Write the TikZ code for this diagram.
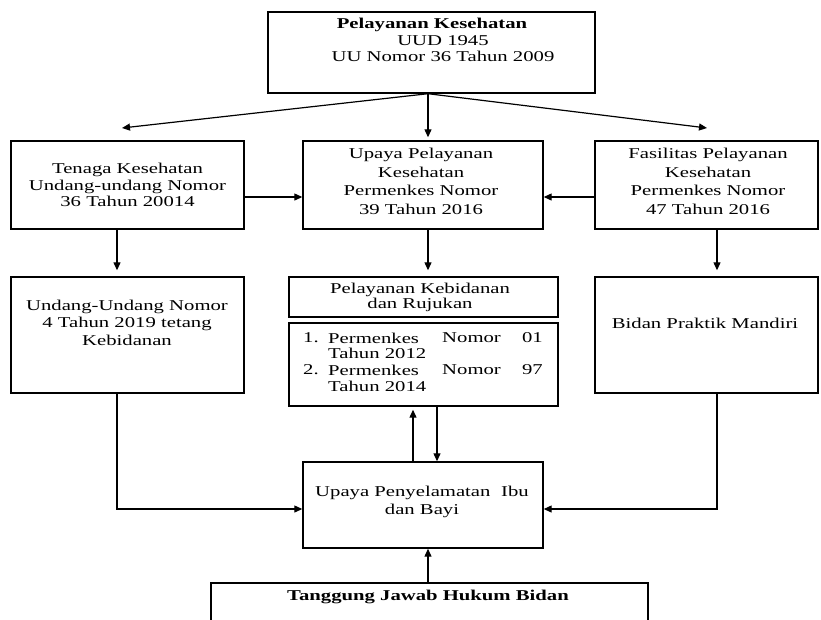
\documentclass[tikz,border=0pt]{standalone}
\usepackage{fontspec}
\setmainfont{Liberation Serif}
\usepackage{graphicx}
\usetikzlibrary{arrows.meta}
\newcommand\sx[1]{\scalebox{1.38}[1]{#1}}
\newcommand\ml[2]{\fontsize{15}{#1}\selectfont\sx{\begin{tabular}{@{}c@{}}#2\end{tabular}}}
\begin{document}
\begin{tikzpicture}[x=1pt,y=-1pt,
  box/.style={draw, line width=1.4pt, inner sep=0pt},
  txt/.style={inner sep=0pt},
  lt/.style={inner sep=0pt, font=\fontsize{15}{16}\selectfont},
  arr/.style={line width=1.2pt, -{Triangle[length=8pt,width=7pt]}}]
\useasboundingbox (0,0) rectangle (821,619);
\clip (0,0) rectangle (821,619);
% columns and rows
\coordinate (lx) at (117,0);
\coordinate (cx) at (428,0);
\coordinate (rx) at (717,0);
\coordinate (upx) at (413,0);
\coordinate (dnx) at (437,0);
\coordinate (hy) at (0,197);
\coordinate (ly) at (0,509);
\coordinate (tkin) at (122,128);
\coordinate (fasin) at (707,128);
% boxes
\node[box, minimum width=327pt, minimum height=81pt] (top) at (431.5,52.5) {};
\node[box, minimum width=233pt, minimum height=88pt] (tk) at (127.5,185) {};
\node[box, minimum width=240pt, minimum height=88pt] (upaya) at (423,185) {};
\node[box, minimum width=223pt, minimum height=88pt] (fas) at (706.5,185) {};
\node[box, minimum width=233pt, minimum height=116pt] (uu) at (127.5,335) {};
\node[box, minimum width=269pt, minimum height=40pt] (kebid) at (423.5,297) {};
\node[box, minimum width=269pt, minimum height=83pt] (list) at (423.5,364.5) {};
\node[box, minimum width=223pt, minimum height=116pt] (bpm) at (706.5,335) {};
\node[box, minimum width=240pt, minimum height=86pt] (ibu) at (423,505) {};
\node[box, minimum width=437pt, minimum height=60pt] (tjh) at (429.5,613) {};
% texts
\node[txt] (toptext) at (443,42) {\ml{16.5}{\textbf{Pelayanan Kesehatan}\hspace*{16pt}\\UUD 1945\\UU Nomor 36 Tahun 2009}};
\node[txt] (tktext) at (127.5,187) {\ml{16.5}{Tenaga Kesehatan\\Undang-undang Nomor\\36 Tahun 20014}};
\node[txt] (upayatext) at (421,183) {\ml{18.5}{Upaya Pelayanan\\Kesehatan\\Permenkes Nomor\\39 Tahun 2016}};
\node[txt] (fastext) at (708,183) {\ml{18.5}{Fasilitas Pelayanan\\Kesehatan\\Permenkes Nomor\\47 Tahun 2016}};
\node[txt] (uutext) at (127,324) {\ml{17.5}{Undang-Undang Nomor\\4 Tahun 2019 tetang\\Kebidanan}};
\node[txt] (kebidtext) at (420,298) {\ml{14.3}{Pelayanan Kebidanan\\dan Rujukan}};
\node[txt] (bpmtext) at (705,325) {\ml{16.5}{Bidan Praktik Mandiri}};
\node[txt] (ibutext) at (422,502) {\ml{18}{Upaya Penyelamatan\hspace{4pt} Ibu\\dan Bayi}};
\node[txt] (tjhtext) at (428,597) {\ml{16.5}{\textbf{Tanggung Jawab Hukum Bidan}}};
% list items
\node[lt, anchor=west] (n1) at (303,338) {\sx{1.}};
\node[lt, anchor=west] (p1) at (328,338) {\sx{Permenkes}};
\node[lt, anchor=west] (m1) at (442,338) {\sx{Nomor}};
\node[lt, anchor=east] (v1) at (543,338) {\sx{01}};
\node[lt, anchor=west] (t1) at (328,353) {\sx{Tahun 2012}};
\node[lt, anchor=west] (n2) at (303,370) {\sx{2.}};
\node[lt, anchor=west] (p2) at (328,370) {\sx{Permenkes}};
\node[lt, anchor=west] (m2) at (442,370) {\sx{Nomor}};
\node[lt, anchor=east] (v2) at (543,370) {\sx{97}};
\node[lt, anchor=west] (t2) at (328,386) {\sx{Tahun 2014}};
% connectors
\draw[arr] (top.south -| cx) -- (tkin);
\draw[arr] (top.south -| cx) -- (fasin);
\draw[arr, shorten >=3pt] (top.south -| cx) -- (upaya.north -| cx);
\draw[arr] (tk.east |- hy) -- (upaya.west |- hy);
\draw[arr] (fas.west |- hy) -- (upaya.east |- hy);
\draw[arr, shorten >=6pt] (tk.south -| lx) -- (uu.north -| lx);
\draw[arr, shorten >=6pt] (upaya.south -| cx) -- (kebid.north -| cx);
\draw[arr, shorten >=6pt] (fas.south -| rx) -- (bpm.north -| rx);
\draw[arr, shorten >=3pt] (ibu.north -| upx) -- (list.south -| upx);
\draw[arr] (list.south -| dnx) -- (ibu.north -| dnx);
\draw[arr] (uu.south -| lx) |- (ibu.west |- ly);
\draw[arr] (bpm.south -| rx) |- (ibu.east |- ly);
\draw[arr] (tjh.north -| cx) -- (ibu.south -| cx);
\end{tikzpicture}
\end{document}
